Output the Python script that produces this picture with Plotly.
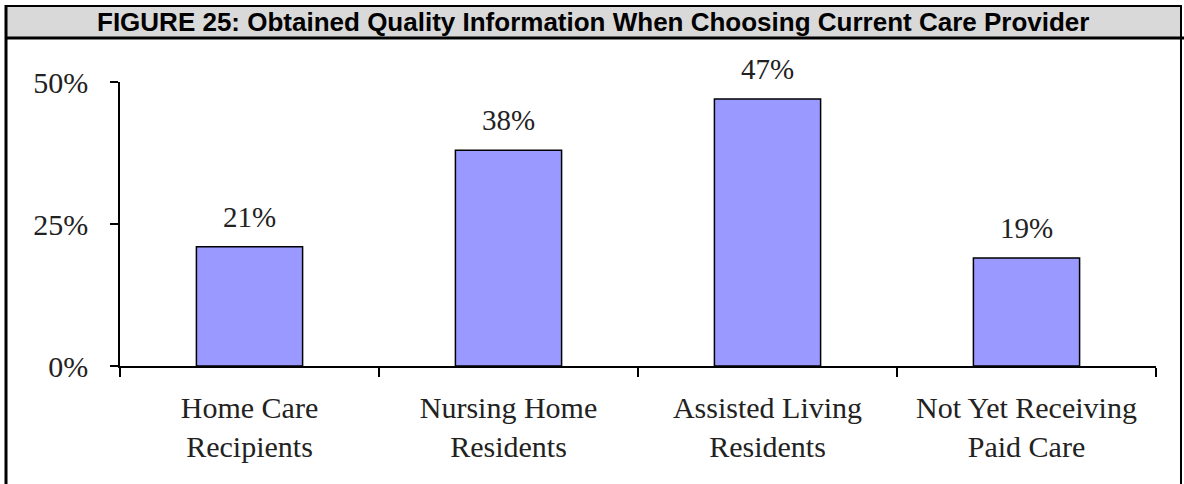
import plotly.graph_objects as go

categories = ["Home Care<br>Recipients", "Nursing Home<br>Residents",
              "Assisted Living<br>Residents", "Not Yet Receiving<br>Paid Care"]
values = [21, 38, 47, 19]
y_ticks = [0, 25, 50]
y_tick_labels = ["0%", "25%", "50%"]
title_text = "FIGURE 25: Obtained Quality Information When Choosing Current Care Provider"

W, H = 1184, 484
L, R, T, B = 120, 28, 82, 118
pw, ph = W - L - R, H - T - B

def px(x):
    return (x - L) / pw

def py(y):
    return (H - B - y) / ph

serif = "Liberation Serif, Times New Roman, serif"

fig = go.Figure()
fig.add_trace(go.Bar(
    x=categories, y=values,
    marker=dict(color="#9999FF", line=dict(color="#000000", width=1.5)),
    hoverinfo="skip",
))

for c, v in zip(categories, values):
    fig.add_annotation(x=c, y=v, text=f"{v}%", showarrow=False,
                       yanchor="bottom", yshift=12,
                       font=dict(family=serif, size=29, color="#222222"))

# title bar and frame
fig.add_shape(type="rect", xref="paper", yref="paper",
              x0=px(6), x1=px(1181), y0=py(38), y1=py(6),
              fillcolor="#D9D9D9", line=dict(color="#000000", width=2), layer="below")
fig.add_shape(type="line", xref="paper", yref="paper",
              x0=px(5), x1=px(1184), y0=py(38), y1=py(38),
              line=dict(color="#000000", width=3))
fig.add_shape(type="line", xref="paper", yref="paper",
              x0=px(6), x1=px(6), y0=py(5), y1=py(484),
              line=dict(color="#000000", width=3))
fig.add_shape(type="line", xref="paper", yref="paper",
              x0=px(1181), x1=px(1181), y0=py(5), y1=py(484),
              line=dict(color="#000000", width=2))
fig.add_annotation(xref="paper", yref="paper", x=px(593), y=py(22),
                   text=f"<b>{title_text}</b>", showarrow=False,
                   xanchor="center", yanchor="middle",
                   font=dict(family="Liberation Sans, Arial, sans-serif", size=26, color="#000000"))

fig.update_layout(
    width=W, height=H,
    margin=dict(l=L, r=R, t=T, b=B),
    paper_bgcolor="white", plot_bgcolor="white",
    showlegend=False, bargap=0.59,
)
fig.update_xaxes(
    showline=True, linecolor="#000000", linewidth=1.5,
    ticks="outside", tickson="boundaries", ticklen=9, tickcolor="#000000", tickwidth=1.5,
    ticklabelstandoff=14,
    tickfont=dict(family=serif, size=30, color="#222222"),
    showgrid=False, zeroline=False,
)
fig.update_yaxes(
    range=[0, 50], showline=True, linecolor="#000000", linewidth=1.5,
    ticks="outside", ticklen=8, tickcolor="#000000", tickwidth=1.5,
    tickvals=y_ticks, ticktext=y_tick_labels, ticklabelstandoff=16,
    tickfont=dict(family=serif, size=30, color="#222222"),
    showgrid=False, zeroline=False,
)

fig.write_html("out.html", config={"displayModeBar": False},
               post_script="document.body.style.margin='0px';")
